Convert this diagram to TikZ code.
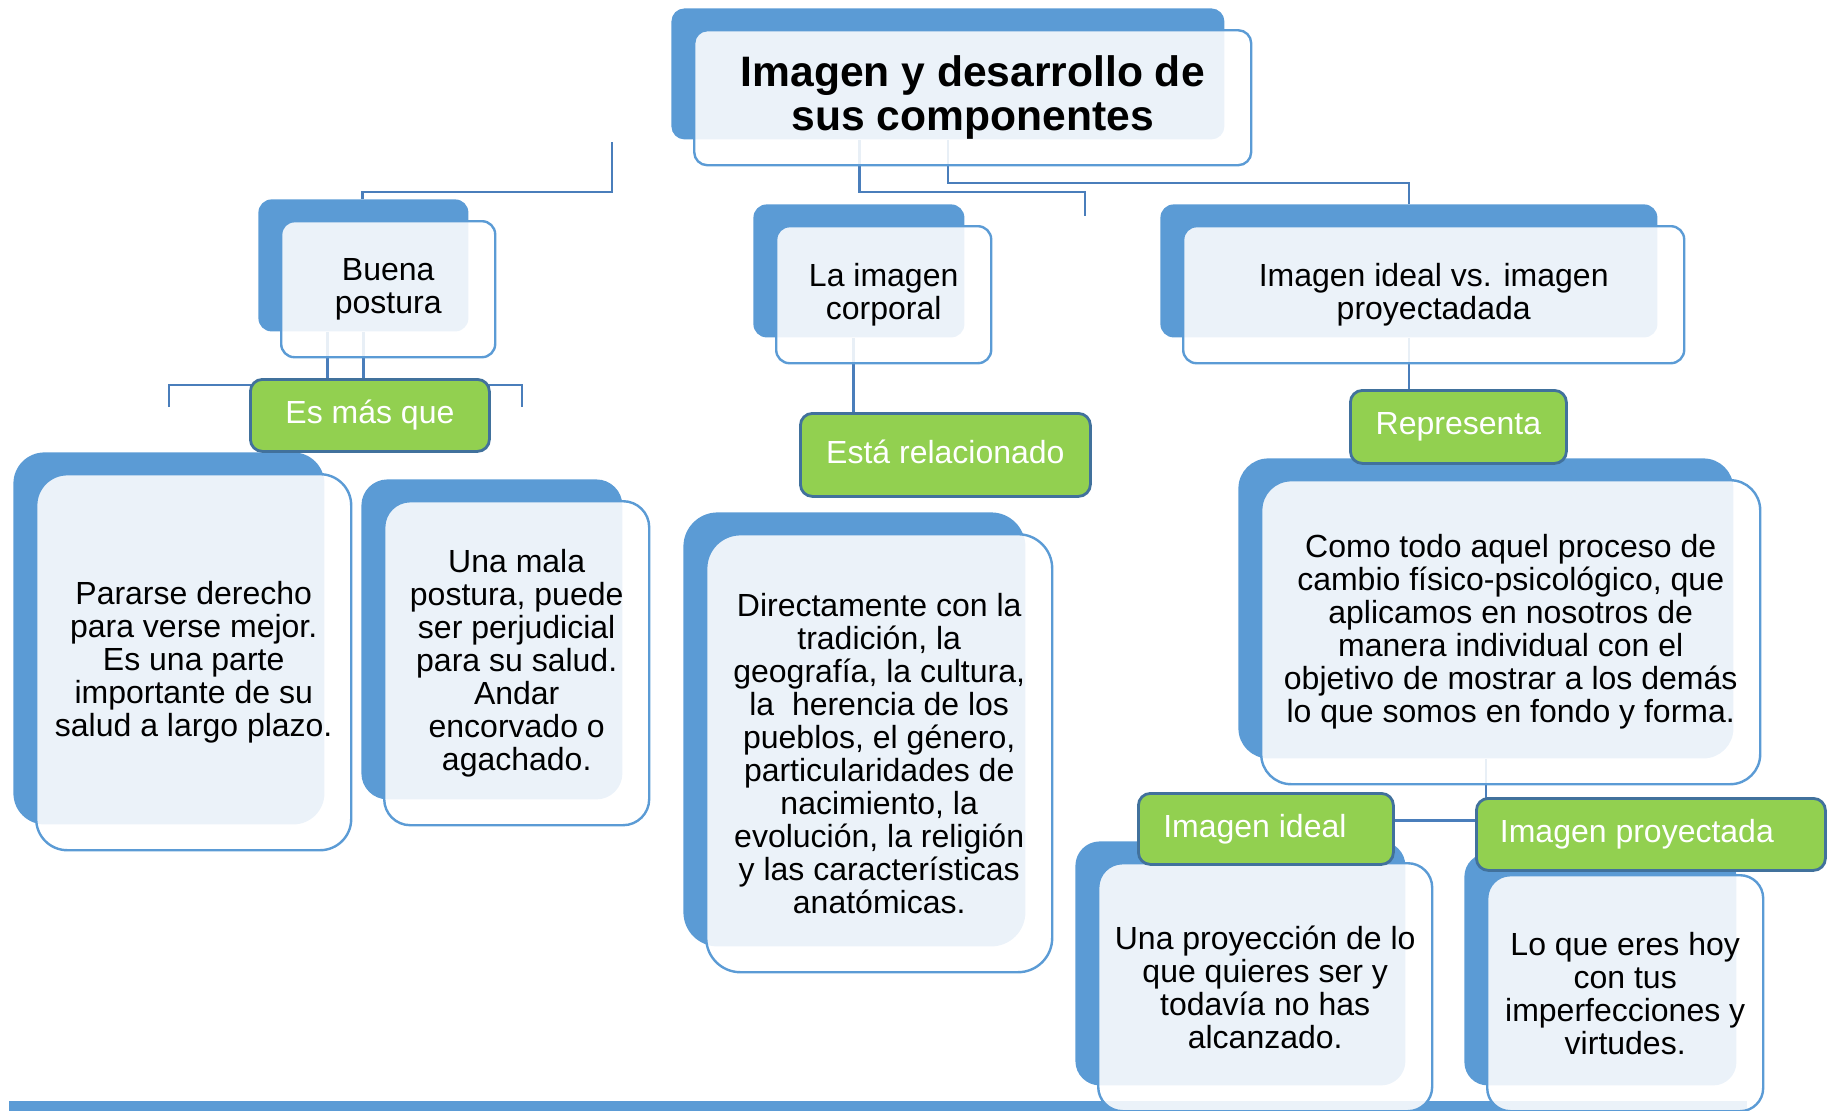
\documentclass[tikz,border=0pt]{standalone}
\usepackage{fontspec}
\setmainfont{Liberation Sans}
\definecolor{bblue}{HTML}{5B9BD5}
\definecolor{lineblue}{HTML}{4A7EBB}
\definecolor{gfill}{HTML}{92D050}
\definecolor{gborder}{HTML}{41719C}
\definecolor{oline}{HTML}{5B9BD5}
\pgfdeclarelayer{bg}
\pgfsetlayers{bg,main}
\tikzset{
  backbox/.style={fill=bblue, draw=none, inner sep=0pt, anchor=north west},
  frontbox/.style={fill=white, fill opacity=0.88, text opacity=1, draw=oline, line width=1.2pt,
    inner sep=0pt, anchor=north west, align=center, font=\fontsize{16}{16.5}\selectfont},
  titlefont/.style={font=\bfseries\fontsize{21.3}{22}\selectfont},
  greenbox/.style={fill=gfill, draw=gborder, line width=1.4pt, rounded corners=6pt, text=white,
    inner sep=0pt, anchor=north west, font=\fontsize{16}{16.5}\selectfont},
  conn/.style={draw=lineblue, line width=1.4pt}
}
% name, x, y, w, h (px of the back box), extra style, text
\newcommand\cbox[7]{%
  \pgfmathsetmacro\crad{0.05*min(#4,#5)}%
  \node[backbox, minimum width=#4*0.5pt, minimum height=#5*0.5pt, rounded corners=\crad pt] (#1b) at (#2,#3) {};
  \node[frontbox, minimum width=(#4+4)*0.5pt, minimum height=(#5+4)*0.5pt, rounded corners=\crad pt, #6] (#1) at (#2+22,#3+21) {#7};
}
\begin{document}
\begin{tikzpicture}[x=0.5pt, y=-0.5pt]
\useasboundingbox (0,0) rectangle (1828,1110);

% boxes
\cbox{title}{671}{8}{553}{131}{titlefont}{Imagen y desarrollo de\\sus componentes}
\cbox{buena}{258}{199}{210}{132}{}{Buena\\postura}
\cbox{lacorp}{753}{204}{211}{133}{}{La imagen\\corporal}
\cbox{idealvs}{1160}{204}{497}{133}{}{Imagen ideal vs. imagen\\proyectadada}
\cbox{pararse}{13}{452}{311}{372}{}{Pararse derecho\\para verse mejor.\\Es una parte\\importante de su\\salud a largo plazo.}
\cbox{mala}{361}{479}{261}{320}{}{Una mala\\postura, puede\\ser perjudicial\\para su salud.\\Andar\\encorvado o\\agachado.}
\cbox{direct}{683}{512}{342}{434}{}{Directamente con la\\tradición, la\\geografía, la cultura,\\la~~herencia de los\\pueblos, el género,\\particularidades de\\nacimiento, la\\evolución, la religión\\y las características\\anatómicas.}
\cbox{como}{1238}{458}{495}{300}{}{Como todo aquel proceso de\\cambio físico-psicológico, que\\aplicamos en nosotros de\\manera individual con el\\objetivo de mostrar a los demás\\lo que somos en fondo y forma.}
\cbox{proy}{1075}{841}{330}{244}{}{Una proyección de lo\\que quieres ser y\\todavía no has\\alcanzado.}
\cbox{loque}{1464}{853}{272}{232}{}{Lo que eres hoy\\con tus\\imperfecciones y\\virtudes.}

% green labels
\node[greenbox, minimum width=239*0.5pt, minimum height=72*0.5pt] (esmas) at (249,378) {Es más que};
\node[greenbox, minimum width=290*0.5pt, minimum height=83*0.5pt] (esta) at (799,412) {\raisebox{3.5pt}{Está relacionado}};
\node[greenbox, minimum width=216*0.5pt, minimum height=73*0.5pt] (repr) at (1349,389) {Representa};
\node[greenbox, minimum width=255*0.5pt, minimum height=71*0.5pt] (gideal) at (1137,792) {Imagen ideal\hspace*{11pt}};
\node[greenbox, minimum width=349*0.5pt, minimum height=72*0.5pt] (gproy) at (1475,797) {Imagen proyectada\hspace*{14pt}};

% connectors and band, behind everything
\begin{pgfonlayer}{bg}
\fill[bblue] (9,1101) rectangle (1747,1115);
\coordinate (tl) at (612,142);
\draw[conn] (tl) |- ([xshift=-0.5pt,yshift=3.5pt]buenab.north) -- ([xshift=-0.5pt]buenab.north);
\coordinate (mend) at (1085,216);
\draw[conn] ([xshift=-44.25pt]titleb.south) |- ([yshift=12pt]mend) -- (mend);
\draw[conn] (titleb.south) |- ([yshift=10.5pt]idealvsb.north) -- (idealvsb.north);
\coordinate (bs2) at ([xshift=-18pt]buenab.south);
\draw[conn] (buenab.south) -- (buenab.south |- esmas.north);
\draw[conn] (bs2) -- (bs2 |- esmas.north);
\coordinate (brl) at (169,407);
\coordinate (brr) at (522,407);
\draw[conn] (brl) |- ([yshift=11pt]brr) -- (brr);
\coordinate (ls) at ([xshift=-2.75pt]lacorpb.south);
\draw[conn] (ls) -- (ls |- esta.north);
\draw[conn] (idealvsb.south) -- (idealvsb.south |- repr.north);
\draw[conn] (comob.south) |- ([yshift=4.25pt]gideal.east);
\end{pgfonlayer}
\end{tikzpicture}
\end{document}
